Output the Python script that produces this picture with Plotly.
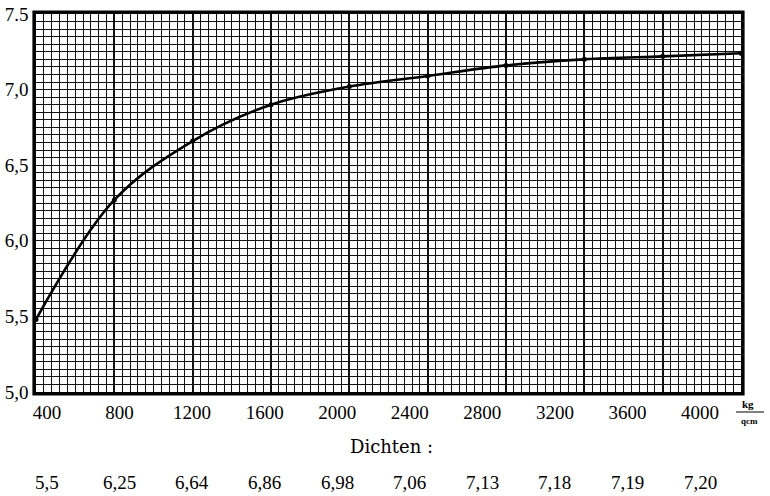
import plotly.graph_objects as go

# Pressure (kg/qcm) at the marked points
pressure = [400, 800, 1200, 1600, 2000, 2400, 2800, 3200, 3600, 4000]
# Curve values
curve = [5.48, 6.27, 6.66, 6.90, 7.02, 7.09, 7.16, 7.20, 7.22, 7.24]
# Printed densities below the chart
dichten = ["5,5", "6,25", "6,64", "6,86", "6,98", "7,06", "7,13", "7,18", "7,19", "7,20"]
x_ticktext = ["400", "800", "1200", "1600", "2000", "2400", "2800", "3200", "3600", "4000"]
y_tickvals = [5.0, 5.5, 6.0, 6.5, 7.0, 7.5]
y_ticktext = ["5,0", "5,5", "6,0", "6,5", "7,0", "7.5"]

SERIF = "'Liberation Serif', 'DejaVu Serif', serif"
W, H = 770, 496
L, T = 36, 14
R = W - 741
B = H - 392

fig = go.Figure()
fig.add_trace(go.Scatter(
    x=pressure, y=curve, mode="lines+markers",
    line=dict(color="black", width=2.6, shape="spline", smoothing=1.0),
    marker=dict(color="black", size=5),
    cliponaxis=False, showlegend=False, hoverinfo="skip"))
# invisible trace to carry the label axis
fig.add_trace(go.Scatter(x=pressure, y=[None] * len(pressure), xaxis="x2",
                         showlegend=False, hoverinfo="skip"))

grid_col = "#111"
fig.update_layout(
    width=W, height=H,
    margin=dict(l=L, r=R, t=T, b=B, autoexpand=False),
    paper_bgcolor="white", plot_bgcolor="white",
    xaxis=dict(range=[400, 4000], tickvals=pressure, showticklabels=False,
               automargin=False,
               showgrid=True, gridcolor=grid_col, gridwidth=1.9,
               minor=dict(dtick=40, tick0=0, showgrid=True, gridcolor=grid_col, gridwidth=1.4),
               showline=True, linecolor="black", linewidth=2.5, mirror=True,
               zeroline=False, ticks=""),
    xaxis2=dict(overlaying="x", anchor="y", side="bottom", automargin=False,
                range=[339.4, 4226], tickvals=pressure, ticktext=x_ticktext,
                showgrid=False, zeroline=False, showline=False,
                ticks="outside", ticklen=3, tickcolor="rgba(0,0,0,0)",
                tickfont=dict(family=SERIF, size=19, color="black")),
    yaxis=dict(range=[5.0, 7.5], tickvals=y_tickvals, ticktext=y_ticktext,
               automargin=False,
               showgrid=True, gridcolor=grid_col, gridwidth=1.4,
               minor=dict(dtick=0.05, tick0=5.0, showgrid=True, gridcolor=grid_col, gridwidth=1.4),
               showline=True, linecolor="black", linewidth=2.5, mirror=True,
               zeroline=False, ticks="", ticklabelstandoff=1,
               tickfont=dict(family=SERIF, size=19, color="black")),
)

pw = W - L - R
ph = H - T - B
def py(p):  # screen pixel -> paper y
    return (H - B - p) / ph
def px(p):  # screen pixel -> paper x
    return (p - L) / pw

# outer frame line (double border look)
fig.add_shape(type="rect", xref="paper", yref="paper",
              x0=px(36 - 3), x1=px(741 + 3), y0=py(392 + 3), y1=py(14 - 3),
              line=dict(color="black", width=1.2), layer="above")

# Dichten heading and row
fig.add_annotation(xref="paper", yref="paper", x=px(392), y=py(446),
                   text="Dichten :", showarrow=False, xanchor="center", yanchor="middle",
                   font=dict(family="'DejaVu Serif', serif", size=18, color="black"))
for p, d in zip(pressure, dichten):
    fig.add_annotation(xref="x2", yref="paper", x=p, y=py(482), text=d,
                       showarrow=False, xanchor="center", yanchor="middle",
                       font=dict(family=SERIF, size=19, color="black"))

# unit kg / qcm
fig.add_annotation(xref="paper", yref="paper", x=px(748), y=py(404), text="<b>kg</b>",
                   showarrow=False, xanchor="center", yanchor="middle",
                   font=dict(family=SERIF, size=11, color="black"))
fig.add_annotation(xref="paper", yref="paper", x=px(750), y=py(421), text="<b>qcm</b>",
                   showarrow=False, xanchor="center", yanchor="middle",
                   font=dict(family=SERIF, size=9, color="black"))
fig.add_shape(type="line", xref="paper", yref="paper",
              x0=px(736), x1=px(764), y0=py(412), y1=py(412),
              line=dict(color="black", width=1))

# remove the default page margin so the figure fills the window exactly
fig.write_html("out.html",
               config={"displayModeBar": False},
               post_script="document.body.style.margin='0';document.body.style.overflow='hidden';")
